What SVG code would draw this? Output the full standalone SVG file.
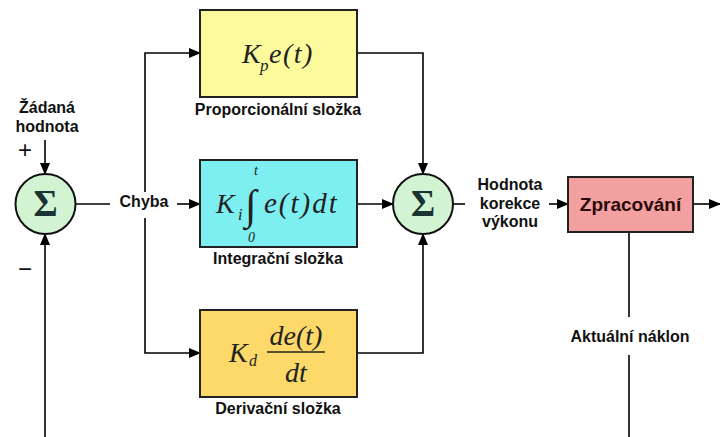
<svg xmlns="http://www.w3.org/2000/svg" width="720" height="437" viewBox="0 0 720 437">
<defs>
<marker id="ah" markerUnits="userSpaceOnUse" markerWidth="12" markerHeight="10" refX="11" refY="5" orient="auto">
<path d="M0,0 L12,5 L0,10 Z" fill="#000"/>
</marker>
<style>
.ln{fill:none;stroke:#000;stroke-width:1.6}
.lbl{font-family:"Liberation Sans",Arial,sans-serif;font-weight:bold;font-size:16px;fill:#111;text-anchor:middle}
.box{stroke:#222;stroke-width:2}
.sum{fill:#d2f4d2;stroke:#111;stroke-width:2}
.sig{font-family:"Liberation Serif","Times New Roman",serif;font-weight:bold;font-size:37px;fill:#1c3333;text-anchor:middle}
.m{font-family:"Liberation Serif","Times New Roman",serif;font-style:italic;fill:#222}
.pm{font-family:"Liberation Sans",Arial,sans-serif;font-size:24px;fill:#111;text-anchor:middle}
</style>
</defs>
<rect width="720" height="437" fill="#fff"/>

<g id="connectors">
<path class="ln" d="M45,140 L45,174" marker-end="url(#ah)"/>
<path class="ln" d="M45,437 L45,234" marker-end="url(#ah)"/>
<path class="ln" d="M76,204 L110,204"/>
<path class="ln" d="M177,204 L200,204" marker-end="url(#ah)"/>
<path class="ln" d="M145,192 L145,53 L200,53" marker-end="url(#ah)"/>
<path class="ln" d="M145,218 L145,353 L200,353" marker-end="url(#ah)"/>
<path class="ln" d="M357,53 L423,53 L423,174" marker-end="url(#ah)"/>
<path class="ln" d="M357,204 L393,204" marker-end="url(#ah)"/>
<path class="ln" d="M357,353 L423,353 L423,234" marker-end="url(#ah)"/>
<path class="ln" d="M453,204 L465,204"/>
<path class="ln" d="M549,204 L568,204" marker-end="url(#ah)"/>
<path class="ln" d="M693,204 L720,204" marker-end="url(#ah)"/>
<path class="ln" d="M629,232 L629,317"/>
<path class="ln" d="M629,355 L629,437"/>
</g>

<g id="setpoint">
<text class="lbl" x="47" y="113">Žádaná</text>
<text class="lbl" x="47" y="132">hodnota</text>
<text class="pm" x="25" y="158">+</text>
<text class="pm" x="25" y="277">−</text>
</g>

<g id="sum1">
<circle class="sum" cx="45.5" cy="204" r="30"/>
<text class="sig" x="45.5" y="216">Σ</text>
</g>

<g id="error">
<text class="lbl" x="144" y="207">Chyba</text>
</g>

<g id="proportional">
<rect class="box" x="200" y="10" width="157" height="87" fill="#fbfb9e"/>
<text class="m" x="242" y="63" font-size="28">K</text>
<text class="m" x="260" y="71" font-size="17">p</text>
<text class="m" x="269" y="63" font-size="28" letter-spacing="1.5">e(t)</text>
<text class="lbl" x="278" y="115">Proporcionální složka</text>
</g>

<g id="integral">
<rect class="box" x="200" y="160" width="157" height="87" fill="#7eeff0"/>
<text class="m" x="216" y="213" font-size="28">K</text>
<text class="m" x="238" y="220" font-size="16">i</text>
<text class="m" x="245" y="219" font-size="42" font-style="normal">∫</text>
<text class="m" x="254" y="175" font-size="14">t</text>
<text class="m" x="248" y="242" font-size="14" font-style="normal">0</text>
<text class="m" x="264" y="213" font-size="29" letter-spacing="2">e(t)dt</text>
<text class="lbl" x="278" y="264">Integrační složka</text>
</g>

<g id="derivative">
<rect class="box" x="200" y="310" width="157" height="87" fill="#fcd968"/>
<text class="m" x="229" y="362" font-size="28">K</text>
<text class="m" x="249" y="366" font-size="16">d</text>
<text class="m" x="296" y="345" font-size="28" text-anchor="middle">de(t)</text>
<line x1="267" y1="352" x2="325" y2="352" stroke="#222" stroke-width="1.5"/>
<text class="m" x="296" y="382" font-size="28" text-anchor="middle">dt</text>
<text class="lbl" x="278" y="414">Derivační složka</text>
</g>

<g id="sum2">
<circle class="sum" cx="423" cy="204" r="30"/>
<text class="sig" x="423" y="216">Σ</text>
</g>

<g id="correction">
<text class="lbl" x="510" y="190">Hodnota</text>
<text class="lbl" x="510" y="209">korekce</text>
<text class="lbl" x="510" y="227">výkonu</text>
</g>

<g id="processing">
<rect class="box" x="568" y="177" width="125" height="55" fill="#f2a0a0"/>
<text x="630.5" y="211" font-family="Liberation Sans,Arial,sans-serif" font-weight="bold" font-size="19" fill="#2a0a0a" text-anchor="middle">Zpracování</text>
</g>

<g id="feedback">
<text class="lbl" x="630" y="342">Aktuální náklon</text>
</g>
</svg>
